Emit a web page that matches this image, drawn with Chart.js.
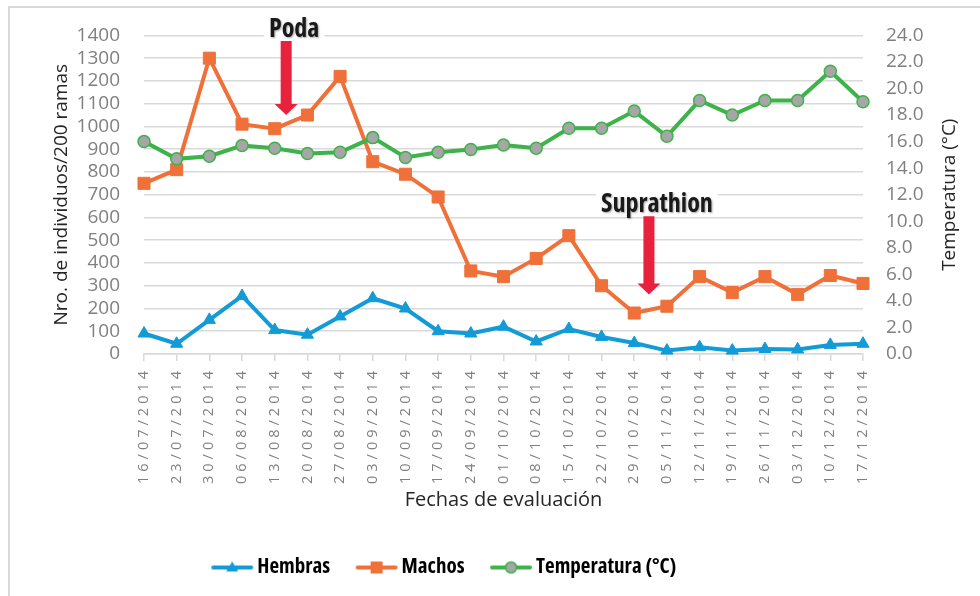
<!DOCTYPE html>
<html>
<head>
<meta charset="utf-8">
<script src="https://cdn.jsdelivr.net/npm/chart.js@4.4.1/dist/chart.umd.min.js"></script>
<style>
  html, body { margin: 0; padding: 0; background: #fff; }
  #wrap { position: relative; width: 980px; height: 596px; overflow: hidden; }
  #marco { position: absolute; left: 8px; top: 6px; right: -10px; bottom: -10px;
           border-top: 2px solid #d9d9d9; border-left: 2px solid #d9d9d9; pointer-events: none; }
  canvas { position: absolute; left: 0; top: 0; }
</style>
</head>
<body>
<div id="wrap">
  <canvas id="grafico" width="980" height="596"></canvas>
  <div id="marco"></div>
</div>
<script>
// --- DATOS ---
const fechas = ['16/07/2014', '23/07/2014', '30/07/2014', '06/08/2014', '13/08/2014', '20/08/2014',
  '27/08/2014', '03/09/2014', '10/09/2014', '17/09/2014', '24/09/2014', '01/10/2014', '08/10/2014',
  '15/10/2014', '22/10/2014', '29/10/2014', '05/11/2014', '12/11/2014', '19/11/2014', '26/11/2014',
  '03/12/2014', '10/12/2014', '17/12/2014'];
const hembras = [90, 45, 150, 255, 105, 85, 165, 245, 200, 100, 90, 120, 55, 110, 75, 48, 15, 30, 15, 22, 20, 40, 45];
const machos = [750, 810, 1300, 1010, 990, 1050, 1220, 845, 790, 690, 365, 340, 420, 520, 300, 180, 210, 340, 270, 340, 262, 345, 310];
const temperatura = [16.0, 14.7, 14.9, 15.7, 15.5, 15.1, 15.2, 16.3, 14.8, 15.2, 15.4, 15.75, 15.5, 17.0, 17.0, 18.3, 16.4, 19.1, 18.0, 19.1, 19.1, 21.3, 19.0];

// ejes
const ejeIzqMax = 1400, ejeIzqPaso = 100;
const ejeDerMax = 24, ejeDerPaso = 2;

// anotaciones (posición en índice de fecha y valores del eje izquierdo)
const notas = ['Poda', 'Suprathion'];
const notaIndice = [4.35, 15.45];
const flechaDesde = [1375, 605];
const flechaHasta = [1050, 262];

// --- COLORES Y FUENTES ---
const AZUL = '#129bd7';
const NARANJA = '#ef7039';
const VERDE = '#3db34a';
const GRIS = '#a6a6a6';
const ROJO = '#e8213d';
const FUENTE = "'Open Sans', sans-serif";

// iconos de la leyenda: línea con marcador
function icono(color, marca) {
    const c = document.createElement('canvas');
    c.width = 44; c.height = 16;
    const g = c.getContext('2d');
    g.strokeStyle = color; g.lineWidth = 4; g.lineCap = 'round';
    g.beginPath(); g.moveTo(3, 8); g.lineTo(41, 8); g.stroke();
    marca(g);
    return c;
}
const iconoHembras = icono(AZUL, g => {
    g.fillStyle = AZUL; g.beginPath();
    g.moveTo(22, 2); g.lineTo(28, 12); g.lineTo(16, 12); g.closePath(); g.fill();
});
const iconoMachos = icono(NARANJA, g => {
    g.fillStyle = NARANJA; g.fillRect(16, 2, 12, 12);
});
const iconoTemp = icono(VERDE, g => {
    g.fillStyle = GRIS; g.strokeStyle = VERDE; g.lineWidth = 1.5;
    g.beginPath(); g.arc(22, 8, 5.5, 0, Math.PI * 2); g.fill(); g.stroke();
});
const iconos = [iconoHembras, iconoMachos, iconoTemp];

// --- PLUGIN: espaciado de las fechas, flechas y título derecho ---
const notasPlugin = {
    id: 'notas',
    afterLayout(chart) {
        // la leyenda va centrada un poco a la izquierda
        chart.legend.right = 894;
    },
    afterDatasetsDraw(chart) {
        // las etiquetas del eje x se dibujan después (ticks.z = 1)
        chart.ctx.letterSpacing = '4px';
    },
    afterDraw(chart) {
        const { ctx, chartArea } = chart;
        const x = chart.scales.x, y = chart.scales.y;
        ctx.letterSpacing = '0px';
        ctx.save();
        notas.forEach((texto, i) => {
            const px = x.getPixelForValue(notaIndice[i]);
            const arriba = y.getPixelForValue(flechaDesde[i]);
            const punta = y.getPixelForValue(flechaHasta[i]);
            const sw = 5.5, hw = 11.5, hh = 11;
            ctx.fillStyle = ROJO;
            ctx.beginPath();
            ctx.moveTo(px - sw, arriba);
            ctx.lineTo(px + sw, arriba);
            ctx.lineTo(px + sw, punta - hh);
            ctx.lineTo(px + hw, punta - hh);
            ctx.lineTo(px, punta);
            ctx.lineTo(px - hw, punta - hh);
            ctx.lineTo(px - sw, punta - hh);
            ctx.closePath();
            ctx.fill();

            ctx.font = 'bold condensed 26px ' + FUENTE;
            const w = ctx.measureText(texto).width;
            const cx = px + 8, cy = arriba - 11.5;
            ctx.fillStyle = '#fff';
            ctx.fillRect(cx - w / 2 - 5, cy - 15, w + 10, 26);
            ctx.shadowColor = 'rgba(0,0,0,0.35)';
            ctx.shadowBlur = 2; ctx.shadowOffsetX = 1; ctx.shadowOffsetY = 1;
            ctx.fillStyle = '#1a1a1a';
            ctx.textAlign = 'center'; ctx.textBaseline = 'middle';
            ctx.fillText(texto, cx, cy);
            ctx.shadowColor = 'transparent';
        });

        // título del eje derecho, leído de abajo hacia arriba
        ctx.translate(950, (chartArea.top + chartArea.bottom) / 2);
        ctx.rotate(-Math.PI / 2);
        ctx.font = '19px ' + FUENTE;
        ctx.fillStyle = '#262626';
        ctx.textAlign = 'center'; ctx.textBaseline = 'middle';
        ctx.fillText('Temperatura (°C)', 0, 0);
        ctx.restore();
    }
};

new Chart(document.getElementById('grafico'), {
    type: 'line',
    data: {
        labels: fechas,
        datasets: [{
            label: 'Hembras',
            data: hembras,
            yAxisID: 'y',
            order: 1,
            borderColor: AZUL,
            backgroundColor: AZUL,
            borderWidth: 4,
            pointStyle: 'triangle',
            pointRadius: 7,
            pointBorderWidth: 1,
            clip: false
        }, {
            label: 'Machos',
            data: machos,
            yAxisID: 'y',
            order: 2,
            borderColor: NARANJA,
            backgroundColor: NARANJA,
            borderWidth: 4,
            pointStyle: 'rect',
            pointRadius: 8.5,
            pointBorderWidth: 1,
            clip: false
        }, {
            label: 'Temperatura (°C)',
            data: temperatura,
            yAxisID: 'y1',
            order: 0,
            borderColor: VERDE,
            backgroundColor: GRIS,
            pointBorderColor: VERDE,
            borderWidth: 4,
            pointStyle: 'circle',
            pointRadius: 6,
            pointBorderWidth: 1.5,
            clip: false
        }]
    },
    options: {
        responsive: false,
        animation: false,
        devicePixelRatio: 1,
        layout: { padding: { top: 34, left: 0, right: 0, bottom: 8 } },
        plugins: {
            tooltip: { enabled: false },
            legend: {
                position: 'bottom',
                labels: {
                    usePointStyle: true,
                    pointStyleWidth: 29,
                    padding: 32,
                    color: '#262626',
                    font: { family: FUENTE, size: 21, weight: 'bold condensed' },
                    generateLabels: (chart) => chart.data.datasets.map((ds, i) => ({
                        text: ds.label,
                        fillStyle: ds.borderColor,
                        strokeStyle: ds.borderColor,
                        lineWidth: 0,
                        pointStyle: iconos[i],
                        hidden: false,
                        datasetIndex: i
                    }))
                }
            }
        },
        scales: {
            x: {
                offset: false,
                grid: { drawOnChartArea: false, drawTicks: true, tickLength: 7, color: '#d9d9d9', lineWidth: 1.5 },
                border: { display: true, color: '#d9d9d9', width: 1.5 },
                ticks: {
                    z: 1, autoSkip: false, minRotation: 90, maxRotation: 90, padding: 6,
                    color: '#808080', font: { family: FUENTE, size: 14.5 }
                },
                title: {
                    display: true, text: 'Fechas de evaluación', color: '#262626',
                    font: { family: FUENTE, size: 20 },
                    padding: { top: 0, bottom: 13 }
                },
                afterFit: (s) => { s.height = 171; }
            },
            y: {
                position: 'left',
                min: 0, max: ejeIzqMax,
                grid: { color: '#d9d9d9', lineWidth: 1.5, drawTicks: false },
                border: { display: false },
                ticks: {
                    stepSize: ejeIzqPaso, autoSkip: false, padding: 24, color: '#808080',
                    font: { family: FUENTE, size: 19 },
                    callback: (v) => String(v)
                },
                title: {
                    display: true, text: 'Nro. de individuos/200 ramas', color: '#262626',
                    font: { family: FUENTE, size: 19 }, padding: { top: 50, bottom: 0 }
                },
                afterFit: (s) => { s.width = 144; }
            },
            y1: {
                position: 'right',
                min: 0, max: ejeDerMax,
                grid: { drawOnChartArea: false, drawTicks: false },
                border: { display: false },
                ticks: {
                    stepSize: ejeDerPaso, autoSkip: false, padding: 23, color: '#808080',
                    font: { family: FUENTE, size: 19 },
                    callback: (v) => v.toFixed(1)
                },
                afterFit: (s) => { s.width = 117; }
            }
        }
    },
    plugins: [notasPlugin]
});
</script>
</body>
</html>
